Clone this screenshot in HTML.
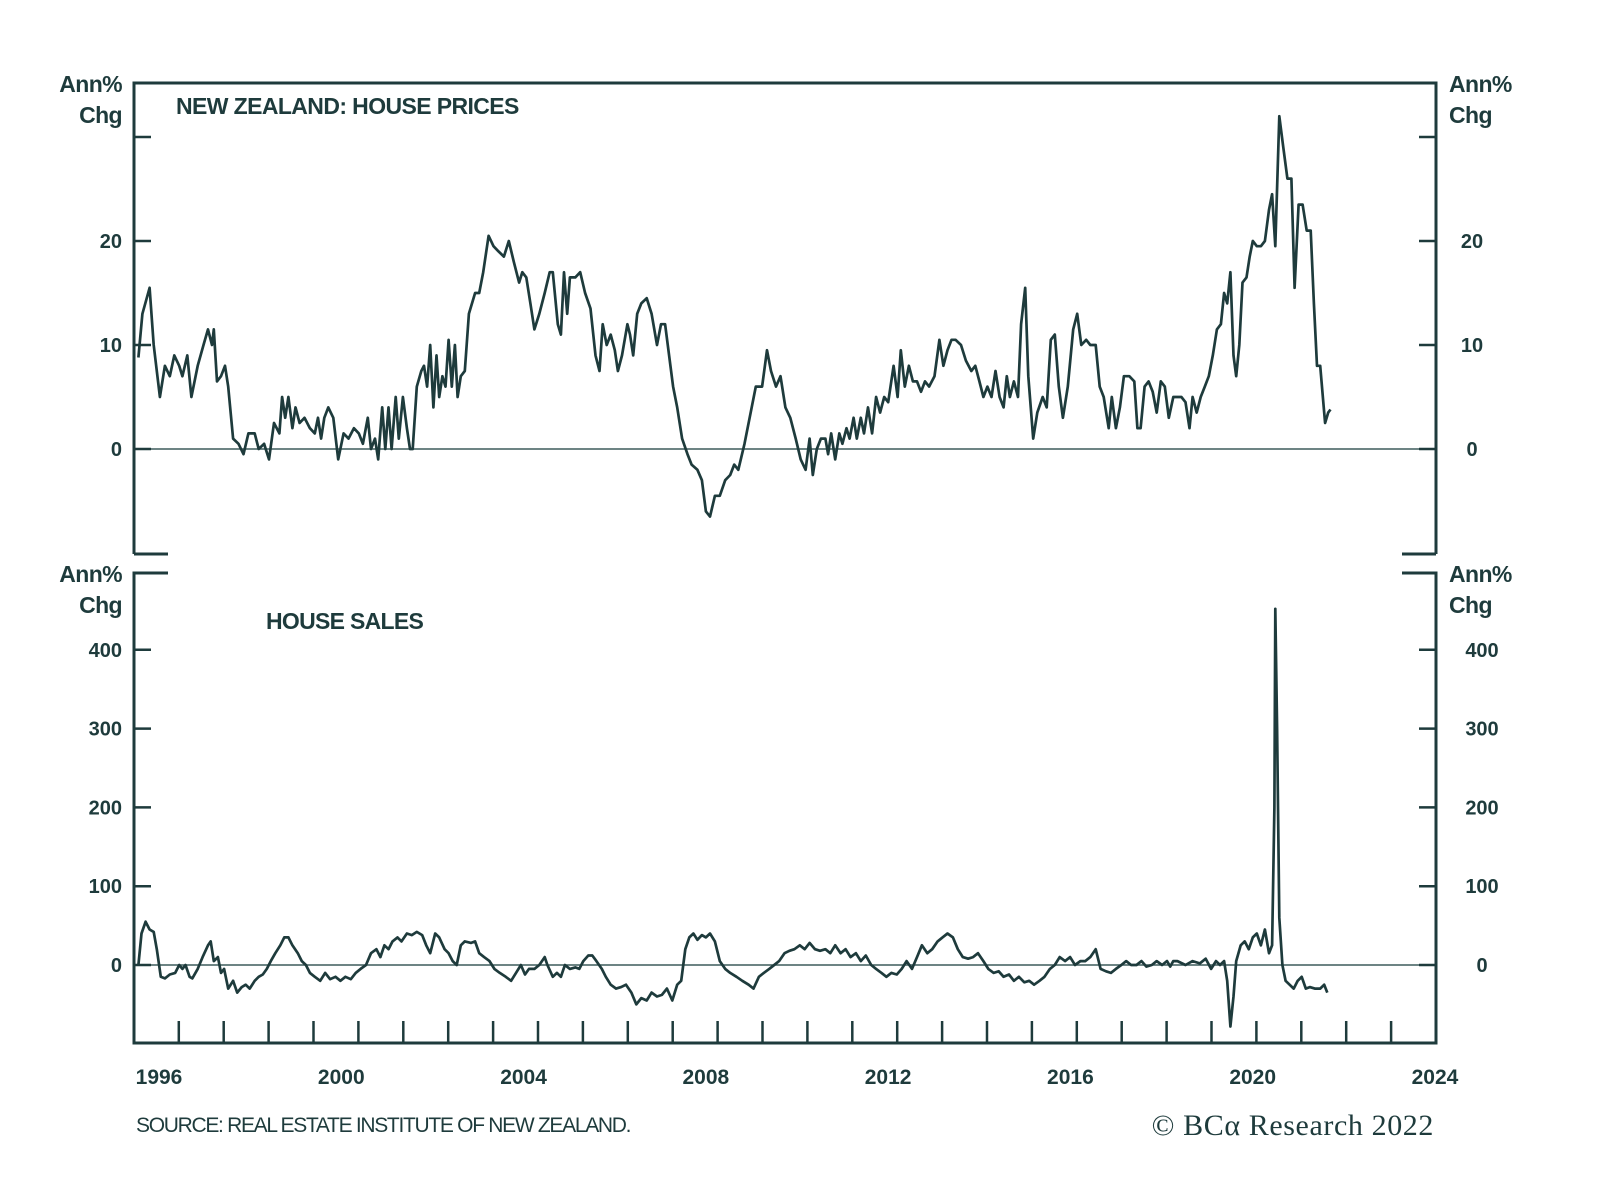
<!DOCTYPE html>
<html><head><meta charset="utf-8">
<style>
html,body{margin:0;padding:0;background:#fff;}
svg{display:block;}
text{font-family:"Liberation Sans",sans-serif;fill:#1e3b3c;}
.tk{font-size:20px;font-weight:bold;}
.un{font-size:23px;font-weight:bold;letter-spacing:-0.6px;}
</style></head>
<body>
<svg id="chart" width="1600" height="1191" viewBox="0 0 1600 1191" xmlns="http://www.w3.org/2000/svg">
<g id="frame"></g>
<g id="top"></g>
<g id="bot"></g>
<text x="176" y="114" style="font-size:23px;font-weight:bold;letter-spacing:-0.6px">NEW ZEALAND: HOUSE PRICES</text>
<text x="266" y="629" style="font-size:23px;font-weight:bold;letter-spacing:-0.7px">HOUSE SALES</text>
<text class="un" x="122" y="92" text-anchor="end">Ann%</text>
<text class="un" x="122" y="123" text-anchor="end">Chg</text>
<text class="un" x="1449" y="92">Ann%</text>
<text class="un" x="1449" y="123">Chg</text>
<text class="un" x="122" y="582" text-anchor="end">Ann%</text>
<text class="un" x="122" y="613" text-anchor="end">Chg</text>
<text class="un" x="1449" y="582">Ann%</text>
<text class="un" x="1449" y="613">Chg</text>
<text x="136" y="1132" style="font-size:21px;letter-spacing:-1.3px">SOURCE: REAL ESTATE INSTITUTE OF NEW ZEALAND.</text>
<text x="1434" y="1135" text-anchor="end" style="font-family:'Liberation Serif',serif;font-size:30px;letter-spacing:0.6px">© BCα Research 2022</text>
</svg>
<script>
const years = [1996,2000,2004,2008,2012,2016,2020,2024];
const priceTicks = [0,10,20,30];
const priceTickLabels = ["0","10","20",""];
const salesTicks = [0,100,200,300,400];
const salesTickLabels = ["0","100","200","300","400"];
const priceDates = [1995.10,1995.19,1995.35,1995.44,1995.58,1995.69,1995.80,1995.90,1996.01,1996.08,1996.19,1996.28,1996.42,1996.55,1996.65,1996.74,1996.78,1996.85,1996.94,1997.03,1997.10,1997.21,1997.33,1997.44,1997.55,1997.69,1997.78,1997.90,1998.01,1998.12,1998.24,1998.30,1998.37,1998.44,1998.53,1998.60,1998.69,1998.80,1998.92,1999.03,1999.10,1999.17,1999.24,1999.33,1999.44,1999.55,1999.67,1999.78,1999.90,2000.01,2000.10,2000.21,2000.28,2000.37,2000.44,2000.53,2000.60,2000.67,2000.74,2000.83,2000.90,2000.99,2001.08,2001.15,2001.21,2001.30,2001.40,2001.46,2001.53,2001.60,2001.67,2001.74,2001.80,2001.87,2001.94,2002.01,2002.08,2002.15,2002.21,2002.28,2002.37,2002.46,2002.60,2002.69,2002.78,2002.90,2003.01,2003.12,2003.24,2003.35,2003.46,2003.58,2003.65,2003.74,2003.83,2003.92,2004.03,2004.15,2004.26,2004.33,2004.44,2004.51,2004.58,2004.65,2004.71,2004.83,2004.94,2005.05,2005.17,2005.28,2005.37,2005.44,2005.53,2005.62,2005.71,2005.78,2005.87,2005.99,2006.05,2006.12,2006.21,2006.30,2006.42,2006.53,2006.65,2006.74,2006.83,2006.92,2007.01,2007.10,2007.21,2007.33,2007.42,2007.55,2007.65,2007.74,2007.83,2007.94,2008.05,2008.17,2008.28,2008.37,2008.46,2008.60,2008.76,2008.85,2008.99,2009.10,2009.19,2009.30,2009.40,2009.51,2009.62,2009.74,2009.85,2009.96,2010.05,2010.12,2010.21,2010.30,2010.40,2010.46,2010.53,2010.62,2010.71,2010.78,2010.87,2010.94,2011.03,2011.10,2011.19,2011.26,2011.35,2011.44,2011.53,2011.62,2011.71,2011.80,2011.92,2012.01,2012.08,2012.17,2012.26,2012.35,2012.44,2012.53,2012.62,2012.71,2012.83,2012.94,2013.03,2013.12,2013.21,2013.30,2013.42,2013.53,2013.65,2013.74,2013.83,2013.92,2014.01,2014.10,2014.19,2014.28,2014.37,2014.44,2014.51,2014.60,2014.69,2014.76,2014.85,2014.92,2015.03,2015.12,2015.24,2015.33,2015.42,2015.51,2015.60,2015.69,2015.80,2015.92,2016.01,2016.10,2016.21,2016.30,2016.42,2016.51,2016.60,2016.71,2016.78,2016.87,2016.96,2017.05,2017.17,2017.28,2017.35,2017.42,2017.51,2017.60,2017.69,2017.78,2017.87,2017.96,2018.05,2018.15,2018.24,2018.33,2018.42,2018.51,2018.58,2018.67,2018.76,2018.85,2018.94,2019.03,2019.12,2019.21,2019.28,2019.35,2019.42,2019.49,2019.55,2019.62,2019.69,2019.78,2019.85,2019.92,2020.01,2020.10,2020.19,2020.28,2020.35,2020.42,2020.51,2020.60,2020.69,2020.78,2020.85,2020.94,2021.03,2021.12,2021.21,2021.28,2021.35,2021.42,2021.49,2021.53,2021.60,2021.65];
const priceValues = [8.8,13,15.5,10,5,8,7,9,8,7,9,5,8,10,11.5,10,11.5,6.5,7,8,6,1,0.5,-0.5,1.5,1.5,0,0.5,-1,2.5,1.5,5,3,5,2,4,2.5,3,2,1.5,3,1,3,4,3,-1,1.5,1,2,1.5,0.5,3,0,1,-1,4,0,4,0,5,1,5,2,0,0,6,7.5,8,6,10,4,9,5,7,6,10.5,6,10,5,7,7.5,13,15,15,17,20.5,19.5,19,18.5,20,18,16,17,16.5,14,11.5,13,15,17,17,12,11,17,13,16.5,16.5,17,15,13.5,9,7.5,12,10,11,9.5,7.5,9,12,11,9,13,14,14.5,13,10,12,12,9,6,4,1,-0.5,-1.5,-2,-3,-6,-6.5,-4.5,-4.5,-3,-2.5,-1.5,-2,0.5,4,6,6,9.5,7.5,6,7,4,3,1,-1,-2,1,-2.5,0,1,1,-0.5,1.5,-1,1.5,0.5,2,1,3,1,3,1.5,4,1.5,5,3.5,5,4.5,8,5,9.5,6,8,6.5,6.5,5.5,6.5,6,7,10.5,8,9.5,10.5,10.5,10,8.5,7.5,8,6.5,5,6,5,7.5,5,4,7,5,6.5,5,12,15.5,7,1,3.5,5,4,10.5,11,6,3,6,11.5,13,10,10.5,10,10,6,5,2,5,2,4,7,7,6.5,2,2,6,6.5,5.5,3.5,6.5,6,3,5,5,5,4.5,2,5,3.5,5,6,7,9,11.5,12,15,14,17,9,7,10,16,16.5,18.5,20,19.5,19.5,20,23,24.5,19.5,32,29,26,26,15.5,23.5,23.5,21,21,14,8,8,4.5,2.5,3.5,3.8];
const salesDates = [1995.10,1995.17,1995.26,1995.35,1995.44,1995.51,1995.60,1995.69,1995.80,1995.92,1996.01,1996.08,1996.15,1996.24,1996.30,1996.42,1996.53,1996.65,1996.71,1996.78,1996.87,1996.94,1997.01,1997.10,1997.21,1997.30,1997.40,1997.49,1997.58,1997.69,1997.78,1997.87,1997.96,1998.05,1998.15,1998.26,1998.35,1998.44,1998.53,1998.65,1998.74,1998.83,1998.92,1999.03,1999.15,1999.26,1999.37,1999.49,1999.60,1999.71,1999.83,1999.94,2000.05,2000.17,2000.28,2000.40,2000.49,2000.58,2000.67,2000.76,2000.87,2000.96,2001.08,2001.19,2001.30,2001.42,2001.51,2001.60,2001.71,2001.80,2001.92,2002.01,2002.10,2002.19,2002.28,2002.37,2002.51,2002.60,2002.69,2002.80,2002.92,2003.03,2003.15,2003.28,2003.40,2003.51,2003.62,2003.71,2003.80,2003.92,2004.03,2004.15,2004.21,2004.33,2004.42,2004.51,2004.60,2004.71,2004.83,2004.92,2005.01,2005.12,2005.21,2005.30,2005.42,2005.51,2005.62,2005.74,2005.85,2005.96,2006.08,2006.19,2006.30,2006.42,2006.53,2006.65,2006.76,2006.87,2006.99,2007.10,2007.19,2007.28,2007.37,2007.46,2007.55,2007.65,2007.74,2007.83,2007.94,2008.05,2008.17,2008.28,2008.42,2008.55,2008.69,2008.80,2008.92,2009.03,2009.15,2009.26,2009.37,2009.49,2009.60,2009.71,2009.83,2009.94,2010.05,2010.17,2010.28,2010.40,2010.51,2010.62,2010.74,2010.85,2010.96,2011.08,2011.19,2011.30,2011.42,2011.53,2011.65,2011.76,2011.87,2011.99,2012.10,2012.21,2012.33,2012.44,2012.55,2012.67,2012.78,2012.90,2013.01,2013.12,2013.24,2013.35,2013.46,2013.58,2013.69,2013.80,2013.92,2014.03,2014.15,2014.26,2014.37,2014.49,2014.60,2014.71,2014.83,2014.94,2015.05,2015.17,2015.28,2015.40,2015.51,2015.62,2015.74,2015.85,2015.96,2016.08,2016.19,2016.30,2016.42,2016.53,2016.65,2016.76,2016.87,2016.99,2017.10,2017.21,2017.33,2017.44,2017.55,2017.67,2017.78,2017.90,2018.01,2018.08,2018.15,2018.24,2018.42,2018.58,2018.74,2018.87,2018.99,2019.10,2019.19,2019.28,2019.35,2019.42,2019.49,2019.55,2019.65,2019.74,2019.83,2019.92,2020.01,2020.10,2020.19,2020.28,2020.35,2020.40,2020.42,2020.46,2020.51,2020.58,2020.65,2020.74,2020.83,2020.92,2021.01,2021.10,2021.19,2021.30,2021.42,2021.51,2021.58];
const salesValues = [0,40,55,45,42,20,-15,-17,-12,-10,0,-5,0,-15,-17,-5,10,25,30,5,10,-10,-5,-30,-20,-35,-28,-25,-30,-20,-15,-12,-5,5,15,25,35,35,25,15,5,0,-10,-15,-20,-10,-18,-15,-20,-15,-18,-10,-5,0,15,20,10,25,20,30,35,30,40,38,42,38,25,15,40,35,20,15,5,0,25,30,28,30,15,10,5,-5,-10,-15,-20,-10,0,-12,-5,-5,0,10,0,-15,-10,-15,0,-5,-3,-5,5,12,12,5,-5,-15,-25,-30,-28,-25,-35,-50,-42,-45,-35,-40,-38,-30,-45,-25,-20,20,35,40,32,38,35,40,30,5,-5,-10,-15,-20,-25,-30,-15,-10,-5,0,5,15,18,20,25,20,28,20,18,20,15,25,15,20,10,15,5,12,0,-5,-10,-15,-10,-12,-5,5,-5,10,25,15,20,30,35,40,35,20,10,8,10,15,5,-5,-10,-8,-15,-12,-20,-15,-22,-20,-25,-20,-15,-5,0,10,5,10,0,5,5,10,20,-5,-8,-10,-5,0,5,0,0,5,-2,0,5,0,5,-2,5,5,0,5,2,8,-5,5,0,5,-20,-78,-40,5,25,30,20,35,40,25,45,15,25,200,452,300,60,0,-20,-25,-30,-20,-15,-30,-28,-30,-30,-25,-35];

const NS='http://www.w3.org/2000/svg';
const L=134, R=1436, TOP=83, TB=554, BT=573, BOT=1043, C='#1e3b3c';
const xS = y => R - (2024 - y) * 44.9;
const xLab = y => 159 + (y - 1996) * 45.57;
const yP = v => 449 - v * 10.4;
const yS = v => 965 - v * 0.788;
function mk(tag, attrs, parent){const e=document.createElementNS(NS,tag);for(const k in attrs)e.setAttribute(k,attrs[k]);parent.appendChild(e);return e;}
const fr=document.getElementById('frame'), tp=document.getElementById('top'), bt=document.getElementById('bot');
let p=mk('path',{d:`M${L} ${TB}V${TOP}H${R}V${TB}M${L} ${TB}H${L+34}M${R} ${TB}H${R-34}M${L+34} ${BT}H${L}V${BOT}H${R}V${BT}H${R-34}`,fill:'none',stroke:C,'stroke-width':3},fr);


let z1=mk('line',{x1:L,x2:R,y1:yP(0),y2:yP(0),stroke:'#3d5c5c','stroke-width':1.6},tp);


let z2=mk('line',{x1:L,x2:R,y1:yS(0),y2:yS(0),stroke:'#3d5c5c','stroke-width':1.6},bt);


priceTicks.forEach((v,i)=>{
  const y=yP(v);
  const t=mk('path',{d:`M${L} ${y}H${L+17}M${R} ${y}H${R-17}`,stroke:C,'stroke-width':2.5},tp);
  
  
  if(priceTickLabels[i]){
    const a=mk('text',{x:122,y:y+7,'text-anchor':'end','class':'tk'},tp);a.textContent=priceTickLabels[i];
    
    
    const b=mk('text',{x:1472,y:y+7,'text-anchor':'middle','class':'tk'},tp);b.textContent=priceTickLabels[i];
    
    
  }
});
salesTicks.forEach((v,i)=>{
  const y=yS(v);
  const t=mk('path',{d:`M${L} ${y}H${L+17}M${R} ${y}H${R-17}`,stroke:C,'stroke-width':2.5},bt);
  
  
  const a=mk('text',{x:122,y:y+7,'text-anchor':'end','class':'tk'},bt);a.textContent=salesTickLabels[i];
  
  
  const b=mk('text',{x:1482,y:y+7,'text-anchor':'middle','class':'tk'},bt);b.textContent=salesTickLabels[i];
  
  
});
for(let yr=1996; yr<2024; yr++){
  const x=xS(yr);
  const t=mk('line',{x1:x,x2:x,y1:BOT,y2:BOT-22,stroke:C,'stroke-width':2.5},fr);
  
  
}
years.forEach(yr=>{
  const t=mk('text',{x:xLab(yr),y:1084,'text-anchor':'middle','class':'tk',style:'font-size:21px'},fr);
  t.textContent=String(yr);
  
  
});
const pl=mk('polyline',{points:priceDates.map((d,i)=>xS(d).toFixed(1)+','+yP(priceValues[i]).toFixed(1)).join(' '),fill:'none',stroke:C,'stroke-width':2.7,'stroke-linejoin':'round'},tp);


const sl=mk('polyline',{points:salesDates.map((d,i)=>xS(d).toFixed(1)+','+yS(salesValues[i]).toFixed(1)).join(' '),fill:'none',stroke:C,'stroke-width':2.7,'stroke-linejoin':'round'},bt);


</script>
</body></html>
